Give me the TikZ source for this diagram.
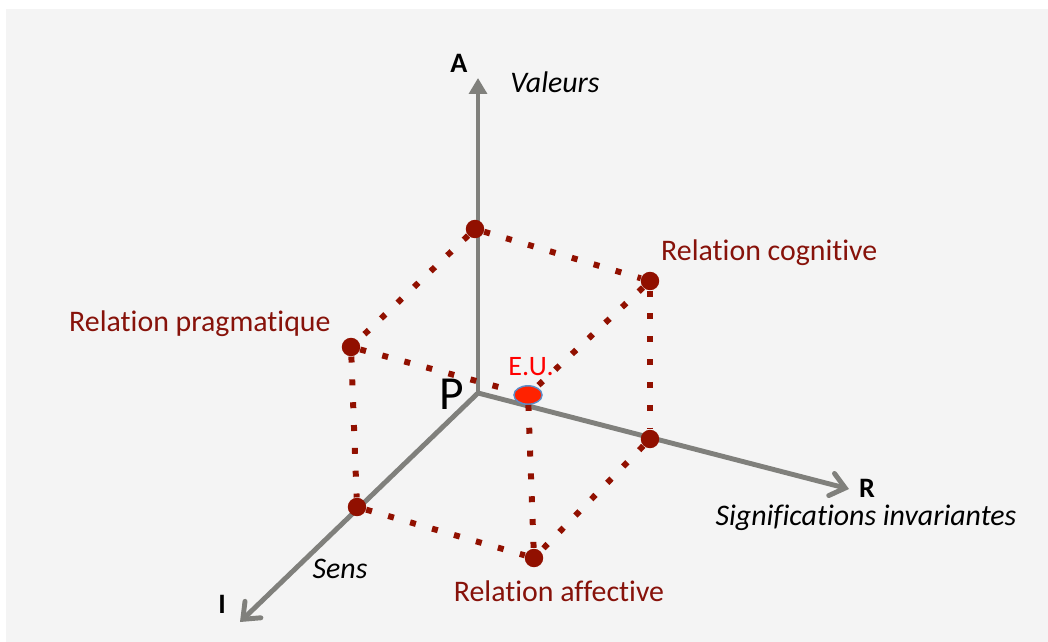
\documentclass[tikz,border=0pt]{standalone}
\usepackage{fontspec}
\setmainfont{Carlito}[RawFeature={-liga;-clig;-dlig;-hlig}]
\usetikzlibrary{arrows.meta,shapes.geometric}

\definecolor{axisgray}{RGB}{128,128,124}
\definecolor{dotred}{RGB}{145,16,0}
\definecolor{labred}{RGB}{135,18,10}
\definecolor{bggray}{RGB}{244,244,244}
\definecolor{eublue}{RGB}{91,140,200}
\definecolor{eured}{RGB}{255,34,0}

\tikzset{
  axis/.style={axisgray,line width=2.8pt},
  corner/.style={circle,fill=dotred,inner sep=0pt,minimum size=10.5pt},
  link/.style={dotred,line width=3.4pt,dash pattern=on 3.4pt off 9.6pt},
  rel/.style={labred,font=\fontsize{17}{20}\selectfont},
  axname/.style={font=\fontsize{16}{19}\selectfont\bfseries},
  axtext/.style={font=\fontsize{17}{20}\selectfont\itshape}
}

\begin{document}
\begin{tikzpicture}[x=0.02cm,y=-0.02cm]
	\useasboundingbox (0,0) rectangle (1048,642);
	\fill[bggray] (6,9) rectangle (1048,642);
	% axes
	\coordinate (P) at (478,393);
	\coordinate (Atip) at (478,78);
	\coordinate (Rtip) at (849,489);
	\coordinate (Itip) at (240,622);
	\draw[axis,-{Triangle[length=9pt,width=10pt]}] (P) -- (Atip);
	\draw[axis,line cap=round,-{Straight Barb[length=8pt,width=13pt,line cap=round]}] (P) -- (Rtip);
	\draw[axis,line cap=round,-{Straight Barb[length=8pt,width=13pt,line cap=round]}] (P) -- (Itip);
	\node[axname] (lA) at (459,63) {A};
	\node[axname] (lR) at (867,488) {R};
	\node[axname] (lI) at (222,604) {I};
	\node[axtext] (val) at (555,82) {Valeurs};
	\node[axtext] (sig) at (866,518) {Significations invariantes};
	\node[axtext] (sens) at (340,569) {Sens};
	\node[font=\fontsize{27}{30}\selectfont] (lP) at (452,394) {P};
	% corners
	\node[corner] (top) at (475,229) {};
	\node[corner] (cog) at (650,281) {};
	\node[corner] (prag) at (351,347) {};
	\node[corner] (onI) at (357,507) {};
	\node[corner] (onR) at (650,439) {};
	\node[corner] (aff) at (534,558) {};
	\node[ellipse,fill=eured,draw=eublue,line width=0.8pt,
	      minimum width=16pt,minimum height=10.5pt,inner sep=0pt] (eu) at (528,395) {};
	% dotted links
	\draw[link] (top) -- (cog);
	\draw[link] (top) -- (prag);
	\draw[link] (prag) -- (eu);
	\draw[link] (cog) -- (eu);
	\draw[link] (eu) -- (aff);
	\draw[link] (prag) -- (onI);
	\draw[link] (cog) -- (onR);
	\draw[link] (onI) -- (aff);
	\draw[link] (onR) -- (aff);
	% labels
	\node[rel,anchor=west] (rc) at (655,253) {Relation cognitive};
	\node[rel,anchor=west] (rp) at (63,324) {Relation pragmatique};
	\node[rel] (ra) at (559,591) {Relation affective};
	\node[red,font=\fontsize{16}{19}\selectfont] (leu) at (531,367) {E.U.};
\end{tikzpicture}
\end{document}
